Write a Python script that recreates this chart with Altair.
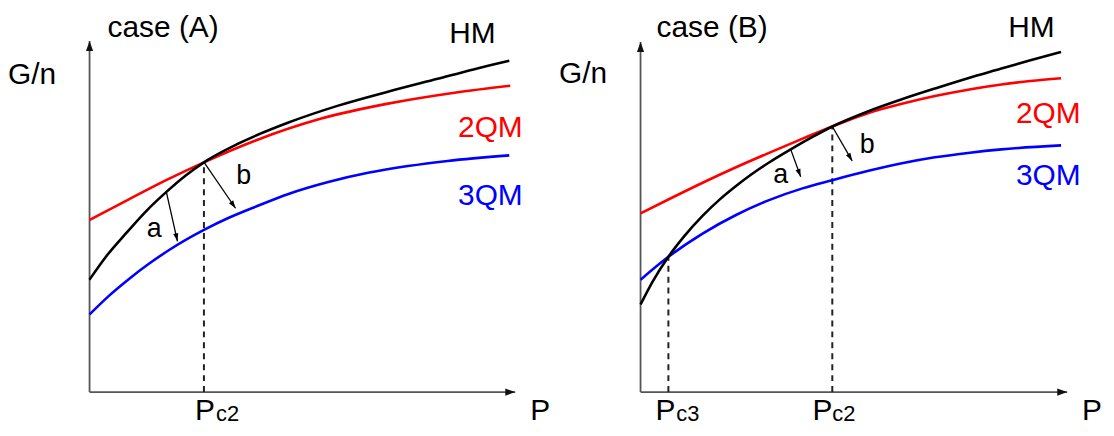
import math
import altair as alt
import pandas as pd

FONT = "Liberation Sans"
HEAD_AXIS = "M0,0L-0.36,1L0.36,1Z"
HEAD_SMALL = "M0,0L-0.32,1L0.32,1Z"
BLACK, RED, BLUE = "#000000", "#ff0000", "#0000ff"

# ---------------- case (A) ----------------
A_HM_P = [0, 4.5, 9.25, 14.25, 19.25, 24.25, 28.75, 37.5, 50, 62.5, 75, 87.5, 96.5, 105.5]
A_HM_G = [28.25, 34.5, 40, 45.5, 50.25, 54.5, 57.75, 62.5, 67.75, 72, 75.5, 78.75, 81.1, 83.25]
A_2QM_P = [0, 10, 19.25, 28.75, 41.75, 58.25, 75, 91.75, 105.75]
A_2QM_G = [43.25, 48.5, 53.25, 57.75, 63.25, 68.75, 72.5, 75.25, 77]
A_3QM_P = [0, 5, 10, 15, 20, 28.75, 35, 42, 50, 60, 70, 80, 90, 105.5]
A_3QM_G = [19.5, 24.3, 28.5, 32.3, 35.7, 40.75, 43.8, 46.7, 49.8, 52.8, 55.1, 56.8, 58.1, 59.5]
A_CRIT_P = [28.75]          # Pc2
A_CRIT_G = [57.75]
A_ARROW_P0 = [19.3, 28.75]  # a, b
A_ARROW_G0 = [50.3, 57.8]
A_ARROW_P1 = [22.1, 36.7]
A_ARROW_G1 = [37.9, 46.2]
A_AXIS_XMAX, A_AXIS_YMAX = 107, 88.25

# ---------------- case (B) ----------------
B_HM_P = [0, 3, 7, 11, 15.7, 20, 24, 28, 32.3, 37.75, 43, 48.2, 57.3, 65.7, 74, 82.3, 90.7, 98, 105.7]
B_HM_G = [22, 27.7, 34, 39.2, 44.4, 48.5, 51.8, 54.8, 57.7, 61, 64, 66.75, 70.6, 73.6, 76.3, 78.9,
          81.3, 83.4, 85.5]
B_2QM_P = [0, 8, 16, 24, 32, 40, 48.2, 53.2, 57.3, 65.7, 74, 82.3, 90.7, 98, 105.7]
B_2QM_G = [44.9, 48.9, 52.8, 56.5, 60, 63.4, 66.75, 68.7, 70.15, 72.45, 74.4, 76, 77.3, 78.2, 78.9]
B_3QM_P = [0, 7, 15.7, 24, 32.3, 40.7, 48.2, 57.3, 65.7, 74, 82.3, 90.7, 105.7]
B_3QM_G = [28.25, 34, 39.9, 44.5, 48.25, 51.2, 53.25, 55.6, 57.5, 59, 60.1, 61, 62]
B_CRIT_P = [7, 48.2]        # Pc3, Pc2
B_CRIT_G = [34, 66.75]
B_ARROW_P0 = [37.75, 48.2]
B_ARROW_G0 = [61, 66.75]
B_ARROW_P1 = [40.25, 53.2]
B_ARROW_G1 = [54.1, 58.1]
B_AXIS_XMAX, B_AXIS_YMAX = 107.25, 88

# ---------------- labels ----------------
A_BIG = [("case (A)", 18.5, 89.25, BLACK), ("HM", 96.25, 87.75, BLACK),
         ("2QM", 100.75, 64, RED), ("3QM", 100.75, 47, BLUE),
         ("P", 113.25, -7, BLACK), ("P", 29, -7, BLACK)]
A_LEFT = [("G/n", -20.5, 77.5, BLACK)]
A_SUB = [("c2", 34.7, -7.4, BLACK)]
A_LETTER = [("a", 16.25, 41, BLACK), ("b", 38.75, 54.25, BLACK)]

B_BIG = [("case (B)", 18, 89.25, BLACK), ("HM", 98.25, 89.25, BLACK),
         ("2QM", 102.5, 67.75, RED), ("3QM", 102.5, 52, BLUE),
         ("P", 113.5, -7, BLACK), ("P", 6.25, -7, BLACK), ("P", 45.75, -7, BLACK)]
B_LEFT = [("G/n", -20.5, 77.75, BLACK)]
B_SUB = [("c3", 11.9, -7.4, BLACK), ("c2", 51.1, -7.4, BLACK)]
B_LETTER = [("a", 35.25, 54.5, BLACK), ("b", 57, 62, BLACK)]


def enc(xs, ys, two=False):
    e = dict(x=alt.X("P:Q", scale=xs, axis=None), y=alt.Y("G:Q", scale=ys, axis=None))
    if two:
        e["x2"] = alt.X2("P2:Q")
        e["y2"] = alt.Y2("G2:Q")
    return e


def heading(p0, g0, p1, g1):
    return math.degrees(math.atan2(p1 - p0, g1 - g0)) % 360


def panel(curves, crit_p, crit_g, ap0, ag0, ap1, ag1, xmax, ymax,
          big, left, sub, letter, xdom, ydom, width, height):
    xs = alt.Scale(domain=xdom, nice=False, zero=False)
    ys = alt.Scale(domain=ydom, nice=False, zero=False)
    layers = []

    # axes with arrowheads
    axes = pd.DataFrame({"P": [0, 0], "G": [0, 0], "P2": [0, xmax], "G2": [ymax, 0]})
    layers.append(alt.Chart(axes).mark_rule(color="#555555", strokeWidth=1.8).encode(**enc(xs, ys, True)))
    axheads = pd.DataFrame({"P": [0, xmax], "G": [ymax, 0], "ang": [0, 90]})
    layers.append(alt.Chart(axheads).mark_point(shape=HEAD_AXIS, filled=True, size=400, color="#111111",
                                                opacity=1, strokeWidth=0)
                  .encode(angle=alt.Angle("ang:Q", scale=None), **enc(xs, ys)))

    # dashed guides at the critical pressures
    dash = pd.DataFrame({"P": crit_p, "G": [0] * len(crit_p), "P2": crit_p, "G2": crit_g})
    layers.append(alt.Chart(dash).mark_rule(color="#222222", strokeWidth=2, strokeDash=[6, 5])
                  .encode(**enc(xs, ys, True)))

    # curves (blue, red, black order)
    for P, G, col in curves:
        df = pd.DataFrame({"P": P, "G": G})
        layers.append(alt.Chart(df).mark_line(color=col, strokeWidth=2.6, interpolate="monotone")
                      .encode(**enc(xs, ys)))

    # arrows a, b
    arr = pd.DataFrame({"P": ap0, "G": ag0, "P2": ap1, "G2": ag1})
    layers.append(alt.Chart(arr).mark_rule(color=BLACK, strokeWidth=1.3).encode(**enc(xs, ys, True)))
    heads = pd.DataFrame({"P": ap1, "G": ag1,
                          "ang": [heading(a, b, c, d) for a, b, c, d in zip(ap0, ag0, ap1, ag1)]})
    layers.append(alt.Chart(heads).mark_point(shape=HEAD_SMALL, filled=True, size=256, color=BLACK,
                                              opacity=1, strokeWidth=0)
                  .encode(angle=alt.Angle("ang:Q", scale=None), **enc(xs, ys)))

    def text_layer(rows, size, align, baseline):
        df = pd.DataFrame(rows, columns=["t", "P", "G", "col"])
        return alt.Chart(df).mark_text(font=FONT, fontSize=size, align=align, baseline=baseline).encode(
            text="t:N", color=alt.Color("col:N", scale=None), **enc(xs, ys))

    layers.append(text_layer(big, 30, "center", "alphabetic"))
    layers.append(text_layer(left, 30, "left", "alphabetic"))
    layers.append(text_layer(sub, 22, "center", "alphabetic"))
    layers.append(text_layer(letter, 27, "center", "middle"))

    return alt.layer(*layers).properties(width=width, height=height)


panelA = panel([(A_3QM_P, A_3QM_G, BLUE), (A_2QM_P, A_2QM_G, RED), (A_HM_P, A_HM_G, BLACK)],
               A_CRIT_P, A_CRIT_G, A_ARROW_P0, A_ARROW_G0, A_ARROW_P1, A_ARROW_G1,
               A_AXIS_XMAX, A_AXIS_YMAX, A_BIG, A_LEFT, A_SUB, A_LETTER,
               [-20.5, 118.5], [-8.75, 96.25], 556, 420)
panelB = panel([(B_3QM_P, B_3QM_G, BLUE), (B_2QM_P, B_2QM_G, RED), (B_HM_P, B_HM_G, BLACK)],
               B_CRIT_P, B_CRIT_G, B_ARROW_P0, B_ARROW_G0, B_ARROW_P1, B_ARROW_G1,
               B_AXIS_XMAX, B_AXIS_YMAX, B_BIG, B_LEFT, B_SUB, B_LETTER,
               [-20, 117], [-8.75, 96.25], 548, 420)

chart = alt.hconcat(panelA, panelB, spacing=0, bounds="flush", padding=0).configure_view(stroke=None)
chart.save("out.html", embed_options={"renderer": "svg", "actions": False})
